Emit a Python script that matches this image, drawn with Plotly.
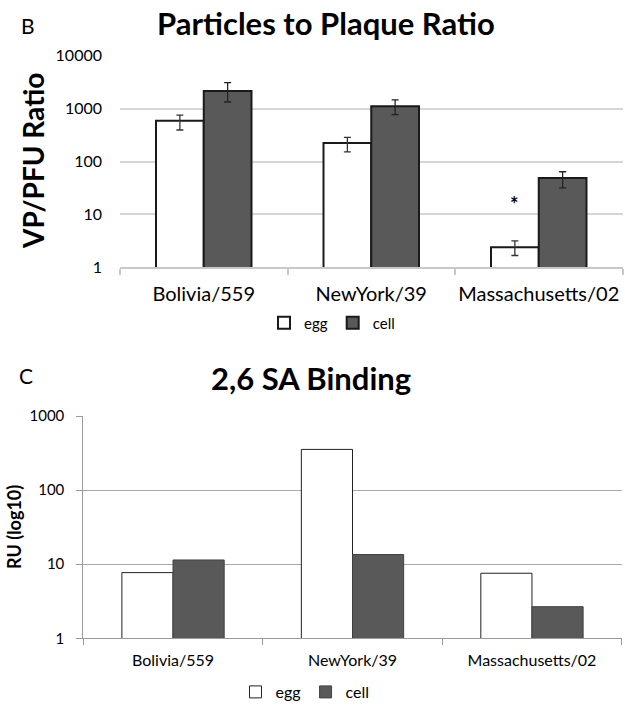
import plotly.graph_objects as go

# ---- data ----
strains = ["Bolivia/559", "NewYork/39", "Massachusetts/02"]

# Panel B: VP/PFU ratio
egg_ratio = [590, 224, 2.4]
egg_ratio_err_plus = [160, 63, 0.75]
egg_ratio_err_minus = [196, 72, 0.73]
cell_ratio = [2150, 1110, 49]
cell_ratio_err_plus = [940, 350, 15]
cell_ratio_err_minus = [817, 340, 17.4]

# Panel C: 2,6 SA binding (RU)
egg_binding = [7.7, 354, 7.55]
cell_binding = [11.4, 13.5, 2.67]

ratio_ticks = [1, 10, 100, 1000, 10000]
binding_ticks = [1, 10, 100, 1000]

W, H = 625, 709
FONT = "Lato"
CELL = "#595959"

def px(x):
    return x / W

def py(y):
    return 1 - y / H

fig = go.Figure()

# Panel B bars
fig.add_trace(go.Bar(
    x=strains, y=egg_ratio, name="egg", xaxis="x", yaxis="y", legend="legend",
    marker=dict(color="white", line=dict(color="#1a1a1a", width=2)),
    error_y=dict(type="data", symmetric=False, array=egg_ratio_err_plus,
                 arrayminus=egg_ratio_err_minus, color="#333333", thickness=1.3, width=3.5),
))
fig.add_trace(go.Bar(
    x=strains, y=cell_ratio, name="cell", xaxis="x", yaxis="y", legend="legend",
    marker=dict(color=CELL, line=dict(color="#1a1a1a", width=2)),
    error_y=dict(type="data", symmetric=False, array=cell_ratio_err_plus,
                 arrayminus=cell_ratio_err_minus, color="#222222", thickness=1.3, width=3.5),
))

# Panel C bars
fig.add_trace(go.Bar(
    x=strains, y=egg_binding, name="egg", xaxis="x2", yaxis="y2", legend="legend2",
    marker=dict(color="white", line=dict(color="#222222", width=1)),
))
fig.add_trace(go.Bar(
    x=strains, y=cell_binding, name="cell", xaxis="x2", yaxis="y2", legend="legend2",
    marker=dict(color=CELL, line=dict(color="#404040", width=1)),
))

top_dom_y = [py(267.3), py(55.7)]
bot_dom_y = [py(638.3), py(416)]

fig.update_layout(
    template="none",
    width=W, height=H, autosize=False,
    margin=dict(l=0, r=0, t=0, b=0, pad=0),
    paper_bgcolor="white", plot_bgcolor="white",
    font=dict(family=FONT, color="black"),
    barmode="group", bargap=0.43, bargroupgap=0,
    xaxis=dict(domain=[px(120), px(622.5)], anchor="y", type="category", automargin=False,
               showline=True, linecolor="#c8c8c8", linewidth=1.5, tickangle=0,
               ticks="outside", tickson="boundaries", ticklen=6, tickcolor="#c8c8c8",
               tickwidth=1.5, showgrid=False, zeroline=False,
               tickfont=dict(size=20, family=FONT), ticklabelstandoff=8),
    yaxis=dict(domain=top_dom_y, anchor="x", type="log", range=[0, 4], automargin=False,
               tickvals=ratio_ticks, ticktext=[str(v) for v in ratio_ticks],
               showgrid=True, gridcolor="#d6d6d6", gridwidth=1.5,
               showline=False, ticks="", zeroline=False,
               tickfont=dict(size=16, family=FONT), ticklabelstandoff=17),
    xaxis2=dict(domain=[px(83.3), px(621.7)], anchor="y2", type="category", automargin=False,
                showline=True, linecolor="#9a9a9a", linewidth=1, tickangle=0,
                ticks="outside", tickson="boundaries", ticklen=6, tickcolor="#9a9a9a",
                showgrid=False, zeroline=False,
                tickfont=dict(size=16, family=FONT), ticklabelstandoff=7),
    yaxis2=dict(domain=bot_dom_y, anchor="x2", type="log", range=[0, 3], automargin=False,
                tickvals=binding_ticks, ticktext=[str(v) for v in binding_ticks],
                showgrid=True, gridcolor="#a8a8a8", gridwidth=1,
                showline=True, linecolor="#9a9a9a", linewidth=1,
                ticks="outside", ticklen=6, tickcolor="#9a9a9a", zeroline=False,
                tickfont=dict(size=15, family=FONT), ticklabelstandoff=9),
    legend=dict(orientation="h", x=px(332), y=py(323), xanchor="center", yanchor="middle",
                font=dict(size=15, family=FONT), itemwidth=30, traceorder="normal",
                bgcolor="rgba(0,0,0,0)", borderwidth=0),
    legend2=dict(orientation="h", x=px(305), y=0, xanchor="center", yanchor="bottom",
                 font=dict(size=16, family=FONT), itemwidth=30, traceorder="normal",
                 bgcolor="rgba(0,0,0,0)", borderwidth=0),
)

ann = [
    dict(text="B", x=px(19), y=py(26), xanchor="left", yanchor="middle",
         font=dict(size=21, family=FONT)),
    dict(text="<b>Particles to Plaque Ratio</b>", x=px(326), y=py(23),
         xanchor="center", yanchor="middle", font=dict(size=31, family=FONT)),
    dict(text="<b>VP/PFU Ratio</b>", x=px(33), y=py(161), textangle=-90,
         xanchor="center", yanchor="middle", font=dict(size=28, family=FONT)),
    dict(text="C", x=px(17), y=py(376), xanchor="left", yanchor="middle",
         font=dict(size=21, family=FONT)),
    dict(text="<b>2,6 SA Binding</b>", x=px(311), y=py(378),
         xanchor="center", yanchor="middle", font=dict(size=31, family=FONT)),
    dict(text="<b>RU (log10)</b>", x=px(14), y=py(527), textangle=-90,
         xanchor="center", yanchor="middle", font=dict(size=18, family=FONT)),
]
for a in ann:
    a.update(xref="paper", yref="paper", showarrow=False)
    fig.add_annotation(**a)

# significance asterisk above Massachusetts egg bar
fig.add_annotation(x=strains[2], y=1.2, xref="x", yref="y", text="<b>*</b>",
                   showarrow=False, xshift=-24, font=dict(size=20, family=FONT, color="black"))

fig.write_html("out.html", config={"displayModeBar": False},
               post_script="document.body.style.margin='0';document.body.style.overflow='hidden';")
